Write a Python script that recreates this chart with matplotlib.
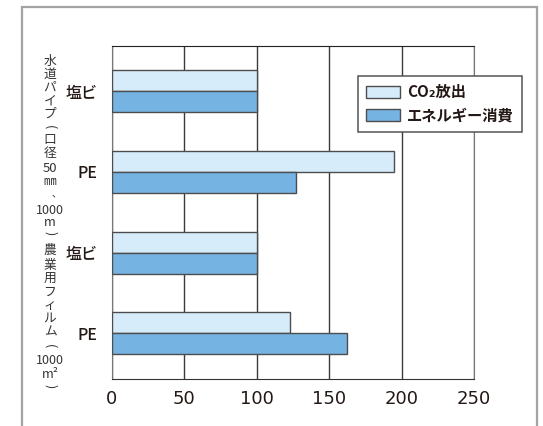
import matplotlib
matplotlib.use('Agg')
import matplotlib.pyplot as plt
from matplotlib.patches import Rectangle
import numpy as np

categories = ['塩ビ', 'PE', '塩ビ', 'PE']
co2_values = [100, 194.5, 100, 122.7]
energy_values = [100, 127, 100, 162.5]
series_names = ['CO₂放出', 'エネルギー消費']
x_ticks = [0, 50, 100, 150, 200, 250]
# vertical axis title, one cell per piece ('(' / ')' are drawn turned for vertical writing)
label_pieces = ['水', '道', 'パ', 'イ', 'プ', '(', '口', '径', '50', '㎜', '、', '1000', 'm', ')',
                '農', '業', '用', 'フ', 'ィ', 'ル', 'ム', '(', '1000', 'm²', ')']

W, H = 543, 426
CJK = ['Noto Sans CJK JP', 'DejaVu Sans']
plt.rcParams['font.family'] = CJK
TXT = '#231815'
LBL = '#333333'

fig = plt.figure(figsize=(W / 100, H / 100), dpi=100)

# outer frame
fig.add_artist(Rectangle((22 / W, -0.05), (537 - 22) / W, 1.05 - 7 / H, fill=False,
                         edgecolor='#a3a3a3', linewidth=1.6, transform=fig.transFigure))

ax = fig.add_axes([111.7 / W, 1 - 379 / H, (474 - 111.7) / W, (379 - 45.7) / H])
y = np.arange(len(categories))
h = 0.26
ax.barh(y - h / 2, co2_values, height=h, color='#d6ecfa', edgecolor='#4d4d4d',
        linewidth=1, zorder=3, label=series_names[0])
ax.barh(y + h / 2, energy_values, height=h, color='#75b3e3', edgecolor='#4d4d4d',
        linewidth=1, zorder=3, label=series_names[1])
ax.set_xlim(0, 250)
ax.set_ylim(3.565, -0.565)
ax.set_xticks(x_ticks)
ax.set_xticklabels([str(t) for t in x_ticks], fontsize=13, family='DejaVu Sans', color=TXT)
ax.set_yticks(y)
ax.set_yticklabels(categories, fontsize=11.5, color=TXT, weight='medium')
ax.tick_params(axis='x', length=0, pad=8)
ax.tick_params(axis='y', length=0, pad=10)
ax.grid(axis='x', color='#3a3a3a', linewidth=1, zorder=0)
ax.set_axisbelow(True)
for s in ['left', 'right', 'bottom']:
    ax.spines[s].set_color('#777777')
ax.spines['top'].set_color('#222222')
ax.spines['bottom'].set_color('#333333')

leg = ax.legend(loc='upper left', bbox_to_anchor=(358 / W, 1 - 76 / H),
                bbox_transform=fig.transFigure, borderaxespad=0, frameon=True,
                fancybox=False, edgecolor='#555555', framealpha=1,
                prop={'family': CJK, 'weight': 'bold', 'size': 11},
                handlelength=2.2, handleheight=0.8, handletextpad=0.45,
                labelspacing=0.45, borderpad=0.55)
leg.get_frame().set_linewidth(1.1)
for t in leg.get_texts():
    t.set_color(TXT)

ycent = [61, 74, 87.5, 101, 114, 127, 139.5, 153, 169, 182, 193.5, 210, 223, 233,
         250, 265, 279, 292, 305, 318, 332, 346, 360, 375, 386]
for piece, yc in zip(label_pieces, ycent):
    xc = 50
    kw = dict(ha='center', va='center', color=LBL, family=CJK)
    if piece in '()':
        kw.update(rotation=-90, fontsize=9)
    elif piece == '1000':
        kw.update(fontsize=9)
    elif piece == '50':
        kw.update(fontsize=9.5)
    elif piece == '、':
        kw.update(fontsize=7)
        xc = 56
    else:
        kw.update(fontsize=9.2)
    fig.text(xc / W, 1 - yc / H, piece, **kw)

fig.savefig('out.png', dpi=100)
